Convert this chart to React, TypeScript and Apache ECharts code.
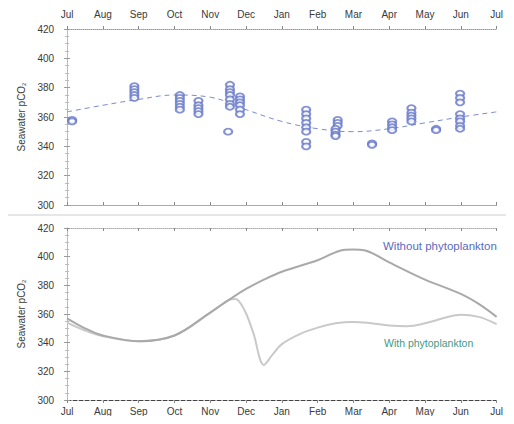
import React, { useEffect, useRef } from "react";
import * as echarts from "echarts";

// Month ticks: x is measured in months from 1 July (0) to the next 1 July (12)
const monthLabels = ["Jul", "Aug", "Sep", "Oct", "Nov", "Dec", "Jan", "Feb", "Mar", "Apr", "May", "Jun", "Jul"];
const yTicks = [300, 320, 340, 360, 380, 400, 420];

// Observed seawater pCO2 samples: [month position, pCO2]
const obsJul = [[0.14, 358], [0.14, 357]];
const obsSep = [[1.88, 381], [1.88, 379], [1.88, 377], [1.88, 375], [1.88, 373]];
const obsOct = [[3.15, 375], [3.15, 373], [3.15, 371], [3.15, 369], [3.15, 367], [3.15, 365]];
const obsOctLate = [[3.67, 371], [3.67, 368], [3.67, 366], [3.67, 364], [3.67, 362]];
const obsNovLate = [[4.55, 382], [4.55, 379], [4.55, 377], [4.55, 375], [4.55, 372], [4.55, 369], [4.55, 367], [4.5, 350]];
const obsDec = [[4.83, 374], [4.83, 372], [4.83, 370], [4.83, 368], [4.83, 365], [4.83, 362]];
const obsFeb = [[6.68, 365], [6.68, 362], [6.68, 359], [6.68, 356], [6.68, 353], [6.68, 350], [6.68, 343], [6.68, 340]];
const obsFebLate = [[7.56, 358], [7.56, 356], [7.56, 354], [7.5, 352], [7.5, 350], [7.5, 348], [7.5, 347]];
const obsMar = [[8.52, 342], [8.52, 341]];
const obsApr = [[9.08, 357], [9.08, 355], [9.08, 353], [9.08, 351]];
const obsAprLate = [[9.62, 366], [9.62, 363], [9.62, 361], [9.62, 359], [9.62, 357]];
const obsMay = [[10.31, 352], [10.31, 351]];
const obsJun = [[10.98, 376], [10.98, 373], [10.98, 370], [10.98, 362], [10.98, 359], [10.98, 357], [10.98, 354], [10.98, 352]];

// Seasonal fit through the observations
const fitCurve = [
  [0, 363.5], [1, 368], [2, 372], [3, 375], [4, 373.5], [5, 365], [6, 357],
  [7, 352], [8, 350], [9, 352], [10, 356], [11, 360], [12, 363.5],
];

// Modelled pCO2 without phytoplankton
const withoutPhyto = [
  [0, 357], [0.5, 350], [1, 345], [2, 341], [3, 345], [4, 361], [4.5, 369.5],
  [5, 377.5], [5.5, 384], [6, 389.5], [7, 397.5], [7.6, 404], [8, 405], [8.3, 404.5],
  [9, 396], [10, 384], [11, 374], [11.5, 367], [12, 358],
];

// Modelled pCO2 with phytoplankton
const withPhyto = [
  [0, 354], [0.5, 348.5], [1, 344.5], [2, 341], [3, 345], [4, 361], [4.5, 369.5],
  [4.7, 370.5], [4.95, 363], [5.2, 347], [5.5, 324.5], [5.75, 332], [6, 339],
  [6.5, 346], [7, 350.5], [7.5, 353.5], [8, 354.5], [8.5, 353.5], [9, 352],
  [9.5, 351.5], [10, 353.5], [10.5, 357], [11, 359.5], [11.5, 358], [12, 353],
];

const observationGroups = [
  obsJul, obsSep, obsOct, obsOctLate, obsNovLate, obsDec, obsFeb,
  obsFebLate, obsMar, obsApr, obsAprLate, obsMay, obsJun,
];

const FONT = "'Liberation Sans', Arial, sans-serif";
const TEXT = "#3a3a3a";

function xAxisFor(gridIndex: number, position: "top" | "bottom", showLabels: boolean, lineStyle: any) {
  return {
    type: "value",
    gridIndex,
    position,
    min: 0,
    max: 12,
    interval: 1,
    axisLine: { show: true, onZero: false, lineStyle },
    axisTick: { show: true, inside: !showLabels, length: 3, lineStyle: { color: "#888" } },
    minorTick: { show: false },
    splitLine: { show: false },
    axisLabel: {
      show: showLabels,
      fontFamily: FONT,
      fontSize: 10,
      color: TEXT,
      margin: position === "top" ? 10 : 6,
      formatter: (v: number) => monthLabels[Math.round(v)] ?? "",
    },
  };
}

function yAxisFor(gridIndex: number, position: "left" | "right", showLabels: boolean, lineStyle: any) {
  return {
    type: "value",
    gridIndex,
    position,
    min: yTicks[0],
    max: yTicks[yTicks.length - 1],
    interval: 20,
    name: showLabels ? "Seawater pCO{s|2}" : "",
    nameLocation: "middle",
    nameRotate: 90,
    nameGap: 34,
    nameTextStyle: {
      fontFamily: FONT,
      fontSize: 10,
      color: TEXT,
      rich: { s: { fontSize: 6, fontFamily: FONT, color: TEXT, verticalAlign: "bottom", padding: [5, 0, 0, 0] } },
    },
    axisLine: { show: true, lineStyle },
    axisTick: { show: true, inside: true, length: 3, lineStyle: { color: "#999" } },
    minorTick: { show: true, splitNumber: 4, length: 2, lineStyle: { color: "#bbb" } },
    splitLine: { show: false },
    axisLabel: {
      show: showLabels,
      fontFamily: FONT,
      fontSize: 10,
      color: TEXT,
      margin: 13,
    },
  };
}

export default function App() {
  const ref = useRef<HTMLDivElement>(null);

  useEffect(() => {
    if (!ref.current) return;
    const chart = echarts.init(ref.current, undefined, { renderer: "svg" });

    const scatterSeries = observationGroups.map((group) => ({
      type: "scatter",
      xAxisIndex: 0,
      yAxisIndex: 0,
      data: group,
      symbol: "emptyCircle",
      symbolSize: [8, 6],
      itemStyle: { color: "#6577c8", borderWidth: 1 },
      z: 3,
    }));

    chart.setOption({
      animation: false,
      backgroundColor: "#ffffff",
      grid: [
        { left: 59, top: 21, width: 435, height: 176 },
        { left: 59, top: 220, width: 435, height: 176 },
      ],
      xAxis: [
        xAxisFor(0, "top", true, { color: "#999", type: "dotted", width: 1 }),
        xAxisFor(0, "bottom", false, { color: "#aaa", width: 1.2 }),
        xAxisFor(1, "bottom", true, { color: "#444", type: "dashed", width: 1 }),
        xAxisFor(1, "top", false, { color: "#aaa", type: "dotted", width: 1 }),
      ],
      yAxis: [
        yAxisFor(0, "left", true, { color: "#8f9ad0", type: "dashed", width: 1 }),
        yAxisFor(0, "right", false, { color: "#bbb", width: 1 }),
        yAxisFor(1, "left", true, { color: "#bbb", type: "dotted", width: 1 }),
        yAxisFor(1, "right", false, { color: "#bbb", width: 1 }),
      ],
      series: [
        {
          type: "line",
          xAxisIndex: 0,
          yAxisIndex: 0,
          data: fitCurve,
          smooth: 0.4,
          showSymbol: false,
          lineStyle: { color: "#7c8ad0", width: 1, type: [5, 4] },
          z: 2,
        },
        ...scatterSeries,
        {
          type: "line",
          xAxisIndex: 2,
          yAxisIndex: 2,
          data: withPhyto,
          smooth: 0.35,
          showSymbol: false,
          lineStyle: { color: "#c9c9c9", width: 2 },
        },
        {
          type: "line",
          xAxisIndex: 2,
          yAxisIndex: 2,
          data: withoutPhyto,
          smooth: 0.35,
          showSymbol: false,
          lineStyle: { color: "#a9a9a9", width: 2 },
        },
      ],
      graphic: [
        {
          type: "line",
          shape: { x1: 0, y1: 207, x2: 514, y2: 207 },
          style: { stroke: "#e6e6e6", lineWidth: 2 },
        },
        {
          type: "text",
          left: 375,
          top: 232,
          style: { text: "Without phytoplankton", fontFamily: FONT, fontSize: 11.5, fill: "#5a6bc0" },
        },
        {
          type: "text",
          left: 376,
          top: 329,
          style: { text: "With phytoplankton", fontFamily: FONT, fontSize: 10.5, fill: "#3f9a86" },
        },
      ],
    });

    return () => chart.dispose();
  }, []);

  return <div ref={ref} style={{ width: 498, height: 408 }} />;
}
